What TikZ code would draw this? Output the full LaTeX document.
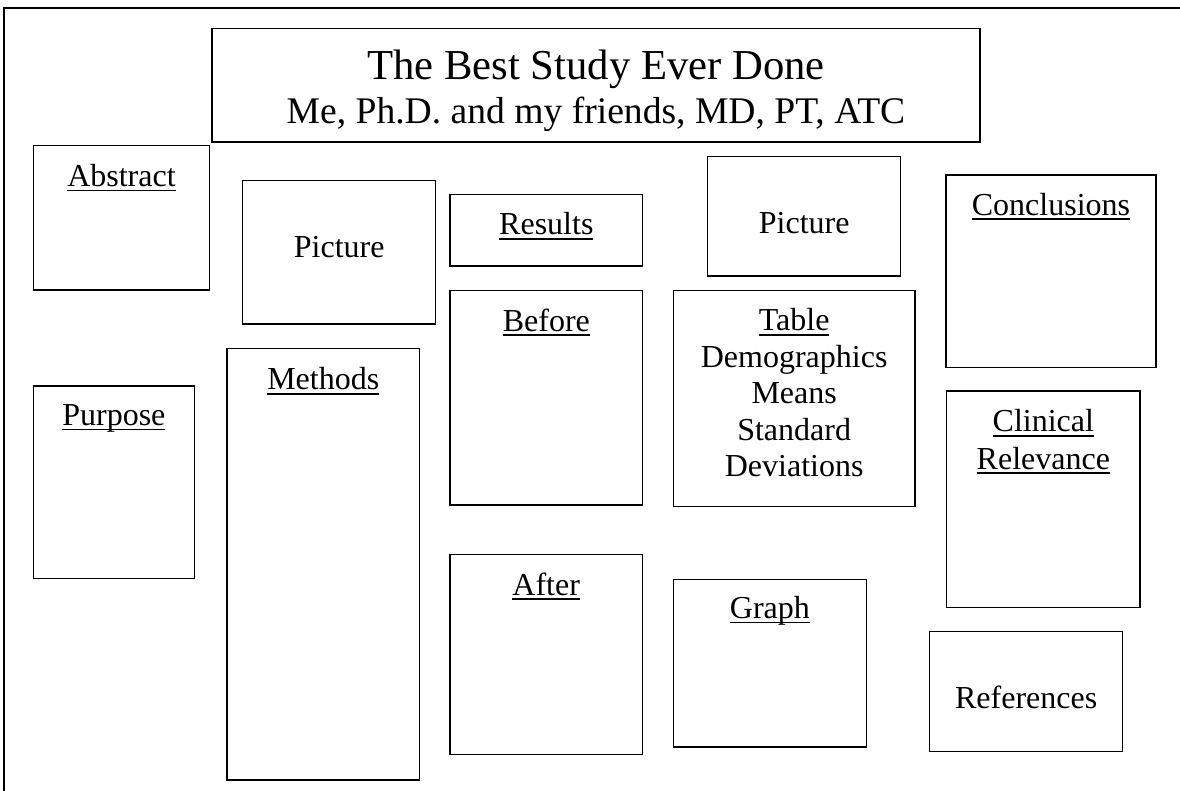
\documentclass[tikz,border=0pt]{standalone}
\usepackage{fontspec}
\setmainfont{Liberation Serif}
\newcommand{\ulin}[1]{\leavevmode\setbox0=\hbox{#1}\rlap{\rule[-0.15em]{\wd0}{0.05em}}\box0}
\tikzset{
  panelbox/.style={draw, line width=1.1pt, inner sep=0pt, outer sep=0pt},
  lbl/.style={anchor=base, inner sep=0pt, outer sep=0pt, font=\fontsize{24}{28}\selectfont},
  frameline/.style={line width=1.5pt},
}
% name, left, top, right, bottom (pixels, y downward)
\newcommand{\posterbox}[5]{\node[panelbox, minimum width={(#4-#2)*0.75pt}, minimum height={(#5-#3)*0.75pt}] (#1) at ({(#2+#4)/2},{(#3+#5)/2}) {};}
\begin{document}
\begin{tikzpicture}[x=0.75pt, y=-0.75pt]
\useasboundingbox (0,0) rectangle (1180,791);
% outer frame (top and left edges only)
\coordinate (fbl) at (4.3,791);
\coordinate (ftl) at (4.3,8.2);
\coordinate (ftr) at (1180,8.2);
\draw[frameline] (fbl) -- (ftl) -- (ftr);

% boxes
\posterbox{title}{212}{28.5}{980}{142}
\posterbox{abs}{33.7}{145.7}{209.3}{290}
\posterbox{pic1}{242.7}{180.3}{435.7}{324}
\posterbox{res}{450}{194.3}{642.7}{266}
\posterbox{pic2}{707.7}{156.7}{900.7}{276}
\posterbox{conc}{946}{175}{1156}{367.3}
\posterbox{before}{450}{290.3}{642.7}{505}
\posterbox{table}{673.3}{290.3}{915}{506.7}
\posterbox{meth}{227}{348.5}{419.5}{780}
\posterbox{purp}{33.5}{386}{194.3}{578.3}
\posterbox{clin}{946.7}{391}{1140}{607.3}
\posterbox{after}{450}{554.3}{642.3}{754.3}
\posterbox{graph}{673.3}{579.3}{866.5}{747}
\posterbox{refs}{929.7}{631.7}{1122.7}{751.7}

% title
\path (title.north) ++(0,50.8) node[anchor=base, inner sep=0pt, font=\fontsize{32}{36}\selectfont] (t1) {The Best Study Ever Done};
\path (title.north) ++(0,94.8) node[anchor=base, inner sep=0pt, font=\fontsize{28.2}{32}\selectfont] (t2) {Me, Ph.D. and my friends, MD, PT, ATC};

% labels
\path (abs.north) ++(0,40.7) node[lbl] (labs) {\ulin{Abstract}};
\path (pic1.north) ++(0,77.3) node[lbl] (lpic1) {Picture};
\path (res.north) ++(0,40.7) node[lbl] (lres) {\ulin{Results}};
\path (pic2.north) ++(0,77.3) node[lbl] (lpic2) {Picture};
\path (conc.north) ++(0,40.3) node[lbl] (lconc) {\ulin{Conclusions}};
\path (before.north) ++(0,40.7) node[lbl] (lbef) {\ulin{Before}};
\path (table.north) ++(0,40.4) node[lbl] (ltab1) {\ulin{Table}};
\path (table.north) ++(0,77.0) node[lbl] (ltab2) {Demographics};
\path (table.north) ++(0,113.3) node[lbl] (ltab3) {Means};
\path (table.north) ++(0,149.8) node[lbl] (ltab4) {Standard};
\path (table.north) ++(0,186.4) node[lbl] (ltab5) {Deviations};
\path (meth.north) ++(0,41.3) node[lbl] (lmeth) {\ulin{Methods}};
\path (purp.north) ++(0,39.5) node[lbl] (lpurp) {\ulin{Purpose}};
\path (clin.north) ++(0,40.7) node[lbl] (lclin1) {\ulin{Clinical}};
\path (clin.north) ++(0,78.0) node[lbl] (lclin2) {\ulin{Relevance}};
\path (after.north) ++(0,40.7) node[lbl] (laft) {\ulin{After}};
\path (graph.north) ++(0,39.0) node[lbl] (lgraph) {\ulin{Graph}};
\path (refs.north) ++(0,76.6) node[lbl] (lrefs) {References};
\end{tikzpicture}
\end{document}
